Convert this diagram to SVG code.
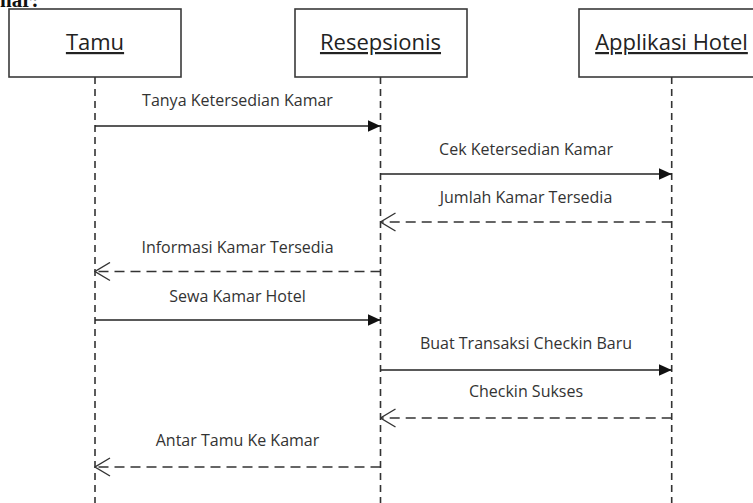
<svg xmlns="http://www.w3.org/2000/svg" width="753" height="503" viewBox="0 0 753 503">
<style>
.box{fill:#fff;stroke:#3a3a3a;stroke-width:1.6}
.life{stroke:#333;stroke-width:1.6;stroke-dasharray:7 5;fill:none}
.hdr{font-family:"Open Sans",sans-serif;font-size:22px;fill:#222;text-anchor:middle;text-decoration:underline}
.lbl{font-family:"Open Sans",sans-serif;font-size:16px;fill:#333;text-anchor:middle}
.call{stroke:#222;stroke-width:1.4;fill:none;marker-end:url(#filled)}
.ret{stroke:#333;stroke-width:1.4;fill:none;stroke-dasharray:10 6;marker-end:url(#open)}
</style>
<defs>
<marker id="filled" viewBox="0 0 13 12" refX="13" refY="6" markerWidth="13" markerHeight="12" markerUnits="userSpaceOnUse" orient="auto">
<path d="M0,0 L13,6 L0,12 z" fill="#111"/>
</marker>
<marker id="open" viewBox="0 0 17 20" refX="16" refY="10" markerWidth="17" markerHeight="20" markerUnits="userSpaceOnUse" orient="auto">
<path d="M1,1 L16,10 L1,19" fill="none" stroke="#333" stroke-width="1.4"/>
</marker>
</defs>
<rect width="753" height="503" fill="#fff"/>
<text x="0" y="7" font-family="Liberation Serif, serif" font-weight="bold" font-size="21" fill="#111">nar:</text>
<g id="tamu">
<rect class="box" x="9" y="9" width="172" height="68"/>
<text class="hdr" x="95" y="50">Tamu</text>
<line class="life" x1="95" y1="77" x2="95" y2="503"/>
</g>
<g id="resepsionis">
<rect class="box" x="295" y="9" width="172" height="68"/>
<text class="hdr" x="380.5" y="50">Resepsionis</text>
<line class="life" x1="380.5" y1="77" x2="380.5" y2="503"/>
</g>
<g id="aplikasi">
<rect class="box" x="579" y="9" width="190" height="68"/>
<text class="hdr" x="671.5" y="50">Applikasi Hotel</text>
<line class="life" x1="671.7" y1="77" x2="671.7" y2="503"/>
</g>
<g id="connectors">
<line class="call" x1="95" y1="126" x2="380.5" y2="126"/>
<text class="lbl" x="237.5" y="106">Tanya Ketersedian Kamar</text>
<line class="call" x1="380.5" y1="174" x2="671.7" y2="174"/>
<text class="lbl" x="526" y="155">Cek Ketersedian Kamar</text>
<line class="ret" x1="671.7" y1="222" x2="380.5" y2="222"/>
<text class="lbl" x="526" y="203">Jumlah Kamar Tersedia</text>
<line class="ret" x1="380.5" y1="271.5" x2="95" y2="271.5"/>
<text class="lbl" x="237.5" y="253">Informasi Kamar Tersedia</text>
<line class="call" x1="95" y1="320" x2="380.5" y2="320"/>
<text class="lbl" x="237.5" y="302">Sewa Kamar Hotel</text>
<line class="call" x1="380.5" y1="370" x2="671.7" y2="370"/>
<text class="lbl" x="526" y="349">Buat Transaksi Checkin Baru</text>
<line class="ret" x1="671.7" y1="418" x2="380.5" y2="418"/>
<text class="lbl" x="526" y="397">Checkin Sukses</text>
<line class="ret" x1="380.5" y1="467" x2="95" y2="467"/>
<text class="lbl" x="237.5" y="446">Antar Tamu Ke Kamar</text>
</g>
</svg>
